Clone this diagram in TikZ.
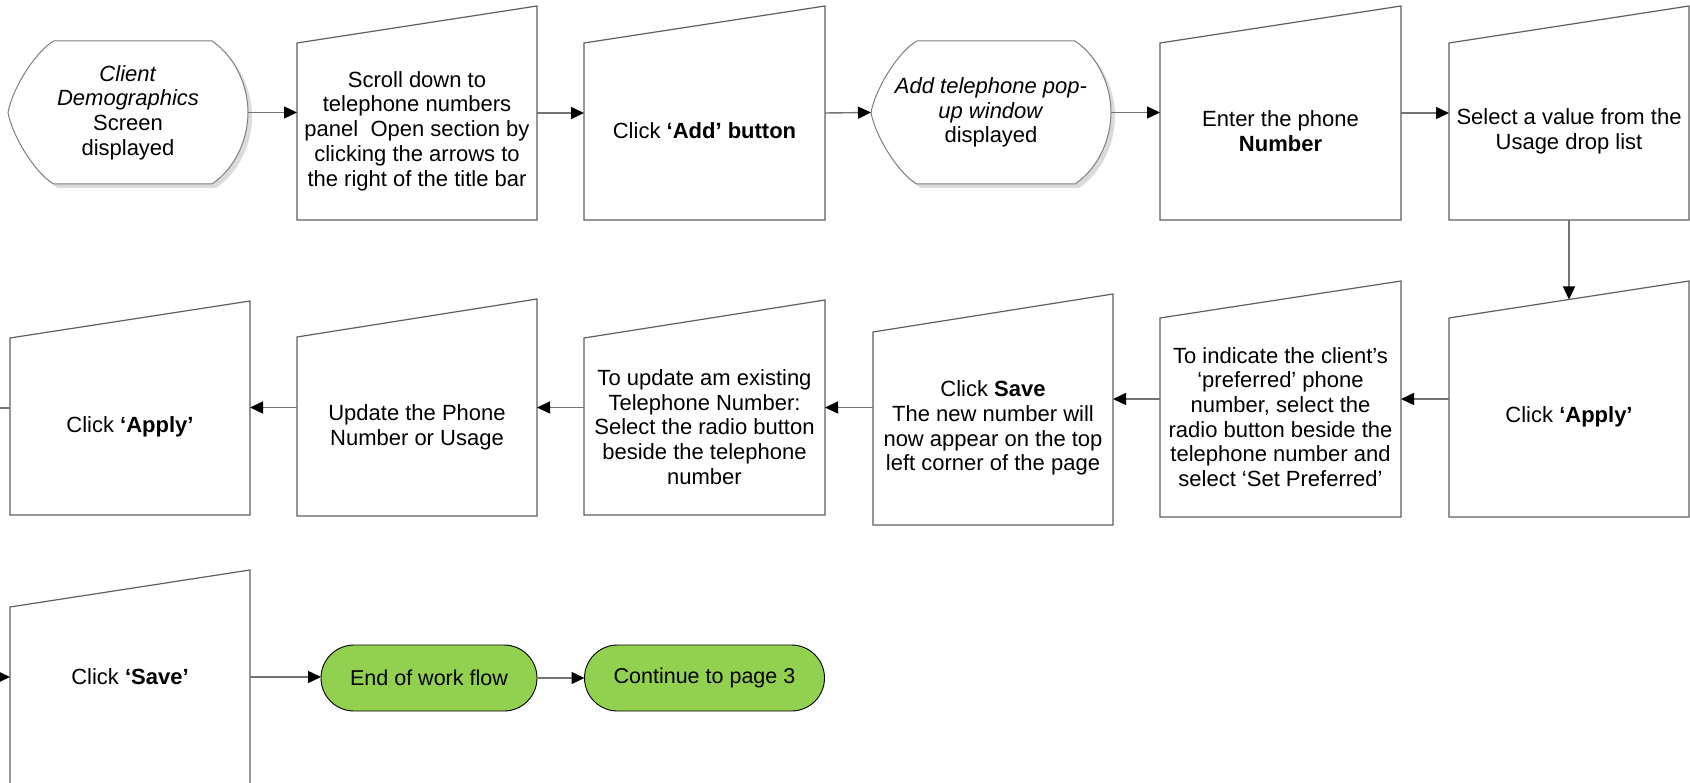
\documentclass[tikz,border=0pt]{standalone}
\usepackage{fontspec}
\setmainfont{Liberation Sans}
\usetikzlibrary{arrows.meta,calc}

\definecolor{edgegray}{RGB}{95,95,95}
\definecolor{linkgray}{RGB}{115,115,115}
\definecolor{termgreen}{RGB}{146,208,80}

\tikzset{
  boxline/.style={draw=edgegray, line width=1.2pt, fill=white, line join=miter},
  boxbound/.style={draw=none, rectangle, inner sep=0pt, outer sep=0pt},
  boxtext/.style={align=center, inner sep=0pt, font=\fontsize{22}{24.7}\selectfont},
  dropshade/.style={fill=black!14, draw=none},
  link/.style={draw=linkgray, line width=1.4pt, -{Triangle[length=13pt,width=12pt,color=black]}},
  plainlink/.style={draw=linkgray, line width=1.4pt},
  terminal/.style={draw=black, line width=0.9pt, fill=termgreen, rounded corners=33pt,
    minimum height=66pt, inner sep=0pt, outer sep=0pt,
    align=center, font=\fontsize{21.5}{24.7}\selectfont},
}

% manual input step: name, left x, right x, top-right y, top-left y, bottom y, text y, text
\newcommand\manualbox[8]{%
  \draw[boxline] (#2,#5) -- (#3,#4) -- (#3,#6) -- (#2,#6) -- cycle;
  \node[boxbound, minimum width={(#3-#2)*1pt}, minimum height={(#6-#4)*1pt}]
    (#1) at ({(#2+#3)/2},{(#4+#6)/2}) {};
  \node[boxtext] (#1-t) at ({(#2+#3)/2},#7) {#8};
  \coordinate (#1-top) at ({(#2+#3)/2},{(#4+#5)/2});
}

% display screen shape: name, left tip x, top y, text
\newcommand\displaybox[4]{%
  \begin{scope}[shift={(#2+4,#3+4)}]
    \path[dropshade] (46,0) -- (204,0) .. controls (229,17) and (240,47) .. (240,71.5)
      .. controls (240,96) and (229,126) .. (204,143) -- (46,143)
      .. controls (30,135) and (5,98) .. (0,71.5)
      .. controls (5,45) and (30,8) .. cycle;
  \end{scope}
  \begin{scope}[shift={(#2,#3)}]
    \path[boxline, draw=edgegray!80, line width=1pt] (46,0) -- (204,0) .. controls (229,17) and (240,47) .. (240,71.5)
      .. controls (240,96) and (229,126) .. (204,143) -- (46,143)
      .. controls (30,135) and (5,98) .. (0,71.5)
      .. controls (5,45) and (30,8) .. cycle;
  \end{scope}
  \node[boxbound, minimum width=240pt, minimum height=143pt]
    (#1) at ({#2+120},{#3+71.5}) {};
  \node[boxtext] (#1-t) at ({#2+120},{#3+71.5}) {#4};
}

\begin{document}
\begin{tikzpicture}[x=1pt, y=-1pt]
  \useasboundingbox[fill=white] (0,0) rectangle (1690,783);

  % first row
  \displaybox{d1}{8}{41}{\textit{Client}\\\textit{Demographics}\\Screen\\displayed}
  \manualbox{b1}{297}{537}{6}{43}{220}{131}{Scroll down to\\telephone numbers\\panel\ \ Open section by\\clicking the arrows to\\the right of the title bar}
  \manualbox{b2}{584}{825}{6}{43}{220}{131}{Click \textbf{‘Add’ button}}
  \displaybox{d2}{871}{41}{\textit{Add telephone pop-}\\\textit{up window}\\displayed}
  \manualbox{b3}{1160}{1401}{6}{43}{220}{131}{Enter the phone\\\textbf{Number}}
  \manualbox{b4}{1449}{1689}{6}{43}{220}{131}{Select a value from the\\Usage drop list}

  % second row
  \manualbox{ar}{1449}{1689}{281}{318}{517}{417}{Click \textbf{‘Apply’}}
  \manualbox{ind}{1160}{1401}{281}{318}{517}{417}{To indicate the client’s\\‘preferred’ phone\\number, select the\\radio button beside the\\telephone number and\\select ‘Set Preferred’}
  \manualbox{sv}{873}{1113}{294}{332}{525}{428}{Click \textbf{Save}\\The new number will\\now appear on the top\\left corner of the page}
  \manualbox{ux}{584}{825}{300}{338}{515}{427}{To update am existing\\Telephone Number:\\Select the radio button\\beside the telephone\\number}
  \manualbox{up}{297}{537}{299}{337}{516}{427}{Update the Phone\\Number or Usage}
  \manualbox{al}{10}{250}{301}{338}{515}{427}{Click \textbf{‘Apply’}}

  % third row
  \manualbox{s3}{10}{250}{570}{607}{784}{677}{Click \textbf{‘Save’}}
  \node[terminal, minimum width=216pt] (endflow) at (429,678) {End of work flow};
  \node[terminal, minimum width=240pt] (cont) at (704.5,678) {Continue to page 3};

  % page-edge ends of the wrap-around connector
  \coordinate (wrapout) at (0,408);
  \coordinate (wrapin) at (0,677);

  % connectors
  \draw[link] (d1.east) -- (d1.east -| b1.west);
  \draw[link] (b1.east) -- (b2.west);
  \draw[link] (b2.east) -- (d2.west);
  \draw[link] (d2.east) -- (d2.east -| b3.west);
  \draw[link] (b3.east) -- (b4.west);
  \draw[link] (b4.south) -- (ar-top);
  \draw[link] (ar.west) -- (ind.east);
  \draw[link] (ind.west) -- (ind.west -| sv.east);
  \draw[link] (sv.west |- ux.east) -- (ux.east);
  \draw[link] (ux.west) -- (ux.west -| up.east);
  \draw[link] (up.west) -- (up.west -| al.east);
  \draw[plainlink] (al.west) -- (wrapout);
  \draw[link] (wrapin) -- (s3.west);
  \draw[link] (s3.east) -- (s3.east -| endflow.west);
  \draw[link] (endflow.east) -- (cont.west);
\end{tikzpicture}
\end{document}
